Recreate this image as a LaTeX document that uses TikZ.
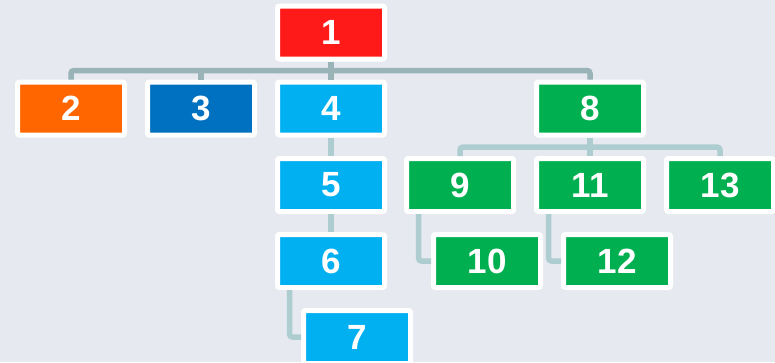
\documentclass[tikz,border=0pt]{standalone}
\usepackage{fontspec}
\setmainfont{Liberation Sans}
\definecolor{bgcol}{HTML}{E6E9F0}
\definecolor{redbox}{HTML}{FF1A1A}
\definecolor{orangebox}{HTML}{FF6600}
\definecolor{bluebox}{HTML}{0070C0}
\definecolor{cyanbox}{HTML}{00B0F0}
\definecolor{greenbox}{HTML}{00B050}
\definecolor{trunkcol}{HTML}{99B3B6}
\definecolor{branchcol}{HTML}{ADCDD0}
\begin{document}
\begin{tikzpicture}[x=1pt,y=-1pt,
  box/.style={draw=white,line width=5pt,rounded corners=2pt,minimum width=107pt,minimum height=53pt,
    text=white,font=\fontsize{35}{35}\selectfont\bfseries},
  trunk/.style={draw=trunkcol,line width=5.5pt,rounded corners=3pt},
  branch/.style={draw=branchcol,line width=5.5pt,rounded corners=3pt}]

  \tikzstyle{every node}+=[inner sep=0pt]
  \fill [bgcol] (0,0) rectangle (775,362);
  \useasboundingbox (0,0) rectangle (775,362);

  \node [box,fill=redbox] (n1) at (331,32.5) {1};
  \node [box,fill=orangebox] (n2) at (71,108.5) {2};
  \node [box,fill=bluebox] (n3) at (201,108.5) {3};
  \node [box,fill=cyanbox] (n4) at (331,108.5) {4};
  \node [box,fill=cyanbox] (n5) at (331,185) {5};
  \node [box,fill=cyanbox] (n6) at (331,261) {6};
  \node [box,fill=cyanbox] (n7) at (357,337) {7};
  \node [box,fill=greenbox] (n8) at (590,108.5) {8};
  \node [box,fill=greenbox] (n9) at (460,185) {9};
  \node [box,fill=greenbox] (n10) at (487,261) {10};
  \node [box,fill=greenbox] (n11) at (590,185) {11};
  \node [box,fill=greenbox] (n12) at (617,261) {12};
  \node [box,fill=greenbox] (n13) at (720,185) {13};

  \coordinate (bus1) at (331,70.5);
  \coordinate (bus8) at (590,147);

  \draw [trunk] (n1.south) -- (bus1);
  \draw [trunk] (n2.north) |- (bus1) -| (n8.north);
  \draw [trunk] (n3.north) -- (n3.north |- bus1);
  \draw [trunk] (n4.north) -- (n4.north |- bus1);

  \draw [branch] (n4.south) -- (n5.north);
  \draw [branch] (n5.south) -- (n6.north);
  \draw [branch] ([xshift=14.5pt]n6.south west) |- (n7.west);

  \draw [branch] (n8.south) -- (bus8);
  \draw [branch] (n9.north) |- (bus8) -| (n13.north);
  \draw [branch] (n11.north) -- (n11.north |- bus8);
  \draw [branch] ([xshift=14.5pt]n9.south west) |- (n10.west);
  \draw [branch] ([xshift=14.5pt]n11.south west) |- (n12.west);

\end{tikzpicture}
\end{document}
